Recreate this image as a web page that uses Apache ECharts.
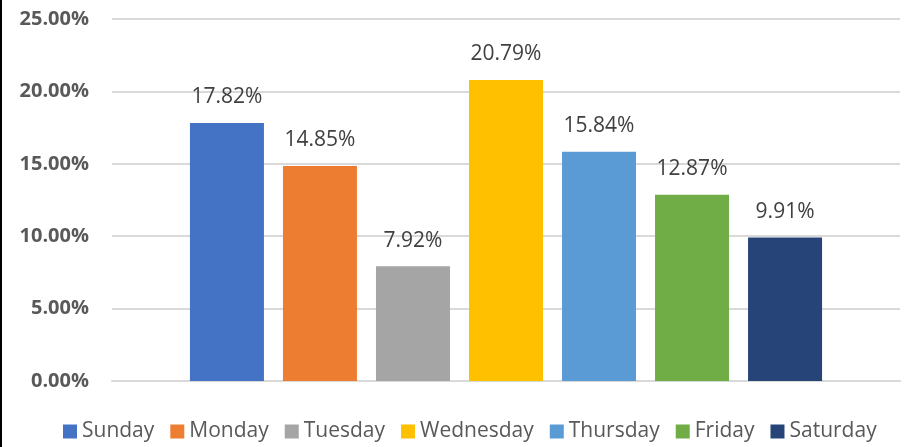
<!DOCTYPE html>
<html>
<head>
<meta charset="utf-8">
<script src="https://cdn.jsdelivr.net/npm/echarts@6/dist/echarts.min.js"></script>
<style>
html,body{margin:0;padding:0;background:#fff;}
#chart{width:905px;height:447px;}
</style>
</head>
<body>
<div id="chart"></div>
<script>
const days = ['Sunday','Monday','Tuesday','Wednesday','Thursday','Friday','Saturday'];
const values = [17.82, 14.85, 7.92, 20.79, 15.84, 12.87, 9.91];
const colors = ['#4472C4','#ED7D31','#A5A5A5','#FFC000','#5B9BD5','#70AD47','#264478'];
const yTicks = [0, 5, 10, 15, 20, 25];

const chart = echarts.init(document.getElementById('chart'));
const font = '"Open Sans", "Noto Sans", sans-serif';
chart.setOption({
  animation: false,
  textStyle: {fontFamily: font},
  graphic: [{type: 'rect', left: 0, top: 0, shape: {width: 2, height: 447}, style: {fill: '#000'}}],
  grid: {left: 112, right: 5, top: 19, bottom: 66},
  legend: {
    bottom: 0, left: 58,
    itemWidth: 14, itemHeight: 14, itemGap: 16,
    icon: 'rect',
    textStyle: {fontSize: 21, color: '#595959', fontFamily: font},
    data: days
  },
  xAxis: {
    type: 'category', data: [''],
    axisLine: {lineStyle: {color: '#d9d9d9', width: 2}},
    axisTick: {show: false}, axisLabel: {show: false}
  },
  yAxis: {
    type: 'value', min: yTicks[0], max: yTicks[yTicks.length-1], interval: 5,
    axisLine: {show: false}, axisTick: {show: false},
    splitLine: {lineStyle: {color: '#d9d9d9', width: 2}},
    axisLabel: {
      margin: 23, fontSize: 20, fontWeight: 'bold', color: '#595959', fontFamily: font,
      formatter: v => v.toFixed(2) + '%'
    }
  },
  series: days.map((d, i) => ({
    name: d, type: 'bar', data: [values[i]],
    barWidth: 74, barGap: '25.7%',
    itemStyle: {color: colors[i]},
    label: {
      show: true, position: 'top', distance: 15,
      fontSize: 21, color: '#404040', fontFamily: font,
      formatter: p => p.value.toFixed(2) + '%'
    }
  }))
});
</script>
</body>
</html>
